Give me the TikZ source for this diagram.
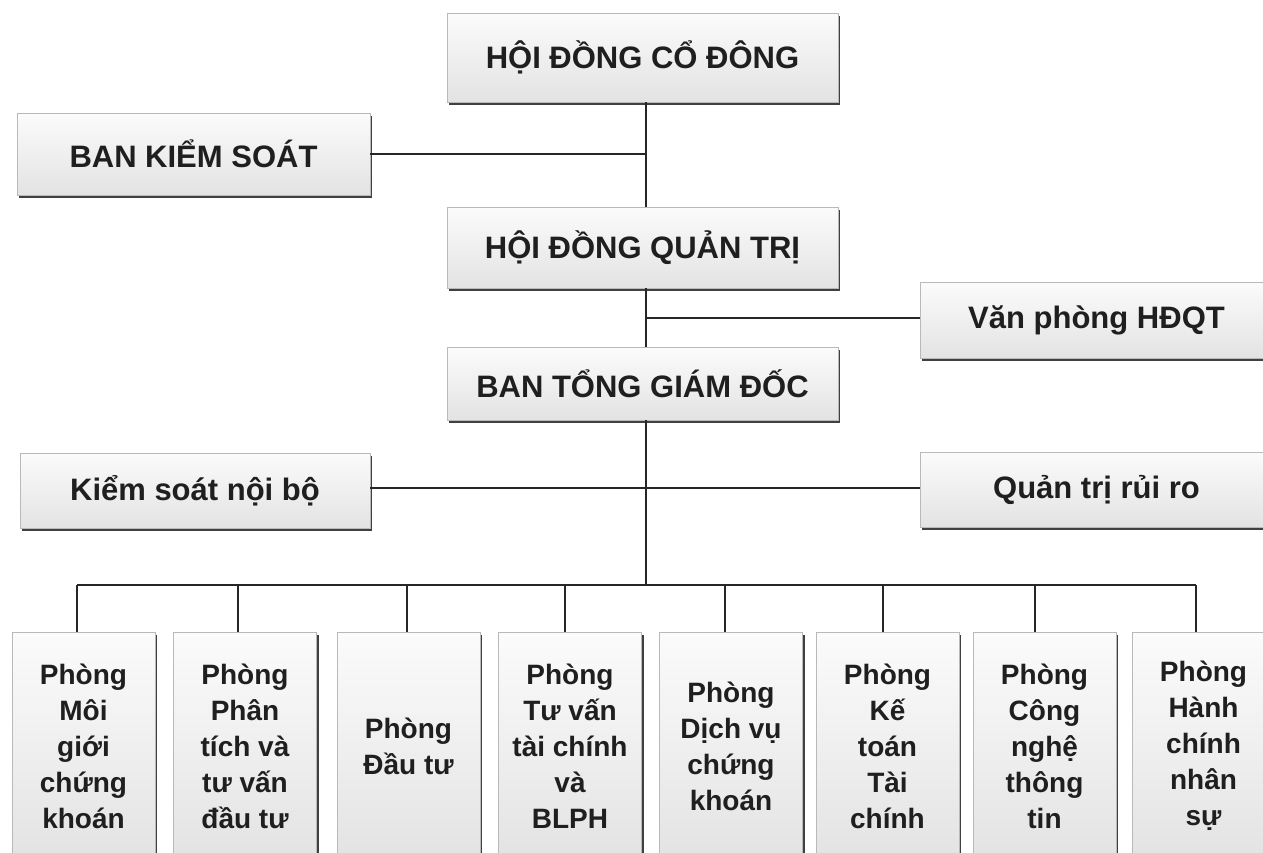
\documentclass[tikz,border=0pt]{standalone}
\usepackage{fontspec}
\setmainfont{Liberation Sans}
\usetikzlibrary{shadows}
\tikzset{
  box/.style={draw=gray!55, line width=0.8pt, top color=gray!3, bottom color=gray!22,
    drop shadow={shadow xshift=2pt, shadow yshift=-2.5pt, fill=black!75, opacity=1},
    inner sep=0pt, text=black!88, font=\bfseries\fontsize{31}{36}\selectfont},
  dept/.style={box, minimum width=143pt, minimum height=228pt, align=center,
    font=\bfseries\fontsize{28}{36}\selectfont},
  link/.style={line width=2pt, draw=black!85}
}
\begin{document}
\begin{tikzpicture}[x=1pt,y=-1pt]
\useasboundingbox (0,0) rectangle (1263,852);
\fill[white] (0,0) rectangle (1263,852);
\coordinate (t) at (646,0);
\coordinate (bus) at (0,585);
% top level boxes
\node[box, minimum width=391pt, minimum height=89pt] (hdcd) at (642.5,57.5) {HỘI ĐỒNG CỔ ĐÔNG};
\node[box, minimum width=353pt, minimum height=82pt] (bks) at (193.5,154) {BAN KIỂM SOÁT};
\node[box, minimum width=391pt, minimum height=81pt] (hdqt) at (642.5,247.5) {HỘI ĐỒNG QUẢN TRỊ};
\node[box, minimum width=353pt, minimum height=76pt] (vp) at (1096.5,320) {Văn phòng HĐQT};
\node[box, minimum width=391pt, minimum height=73pt] (btgd) at (642.5,383.5) {BAN TỔNG GIÁM ĐỐC};
\node[box, minimum width=350pt, minimum height=75pt] (ksnb) at (195,490.5) {Kiểm soát nội bộ};
\node[box, minimum width=353pt, minimum height=75pt] (qtrr) at (1096.5,489.5) {Quản trị rủi ro};
% departments
\node[dept] (b1) at (83.5,746) {Phòng\\Môi\\giới\\chứng\\khoán};
\node[dept] (b2) at (245,746) {Phòng\\Phân\\tích và\\tư vấn\\đầu tư};
\node[dept] (b3) at (408.5,746) {Phòng\\Đầu tư};
\node[dept] (b4) at (570,746) {Phòng\\Tư vấn\\tài chính\\và\\BLPH};
\node[dept] (b5) at (731,746) {Phòng\\Dịch vụ\\chứng\\khoán};
\node[dept] (b6) at (887.5,746) {Phòng\\Kế\\toán\\Tài\\chính};
\node[dept] (b7) at (1044.5,746) {Phòng\\Công\\nghệ\\thông\\tin};
\node[dept] (b8) at (1203.5,746) {Phòng\\Hành\\chính\\nhân\\sự};
% connectors
\draw[link] (hdcd.south -| t) -- (hdqt.north -| t);
\draw[link] (bks.east) -- (bks.east -| t);
\draw[link] (hdqt.south -| t) -- (btgd.north -| t);
\draw[link] ([yshift=2pt]vp.west) -- ([yshift=2pt]vp.west -| t);
\draw[link] ([yshift=3pt]ksnb.east) -- ([yshift=3pt]ksnb.east -| qtrr.west);
\draw[link] (btgd.south -| t) -- (bus -| t);
\draw[link] ([xshift=-6.5pt]b1.north |- bus) -- ([xshift=-7.5pt]b8.north |- bus);
\foreach \b/\s in {b1/-6.5,b2/-7,b3/-1.5,b4/-5,b5/-6,b6/-4.5,b7/-9.5,b8/-7.5}
  \draw[link] ([xshift=\s pt]\b.north |- bus) -- ([xshift=\s pt]\b.north);
\end{tikzpicture}
\end{document}
